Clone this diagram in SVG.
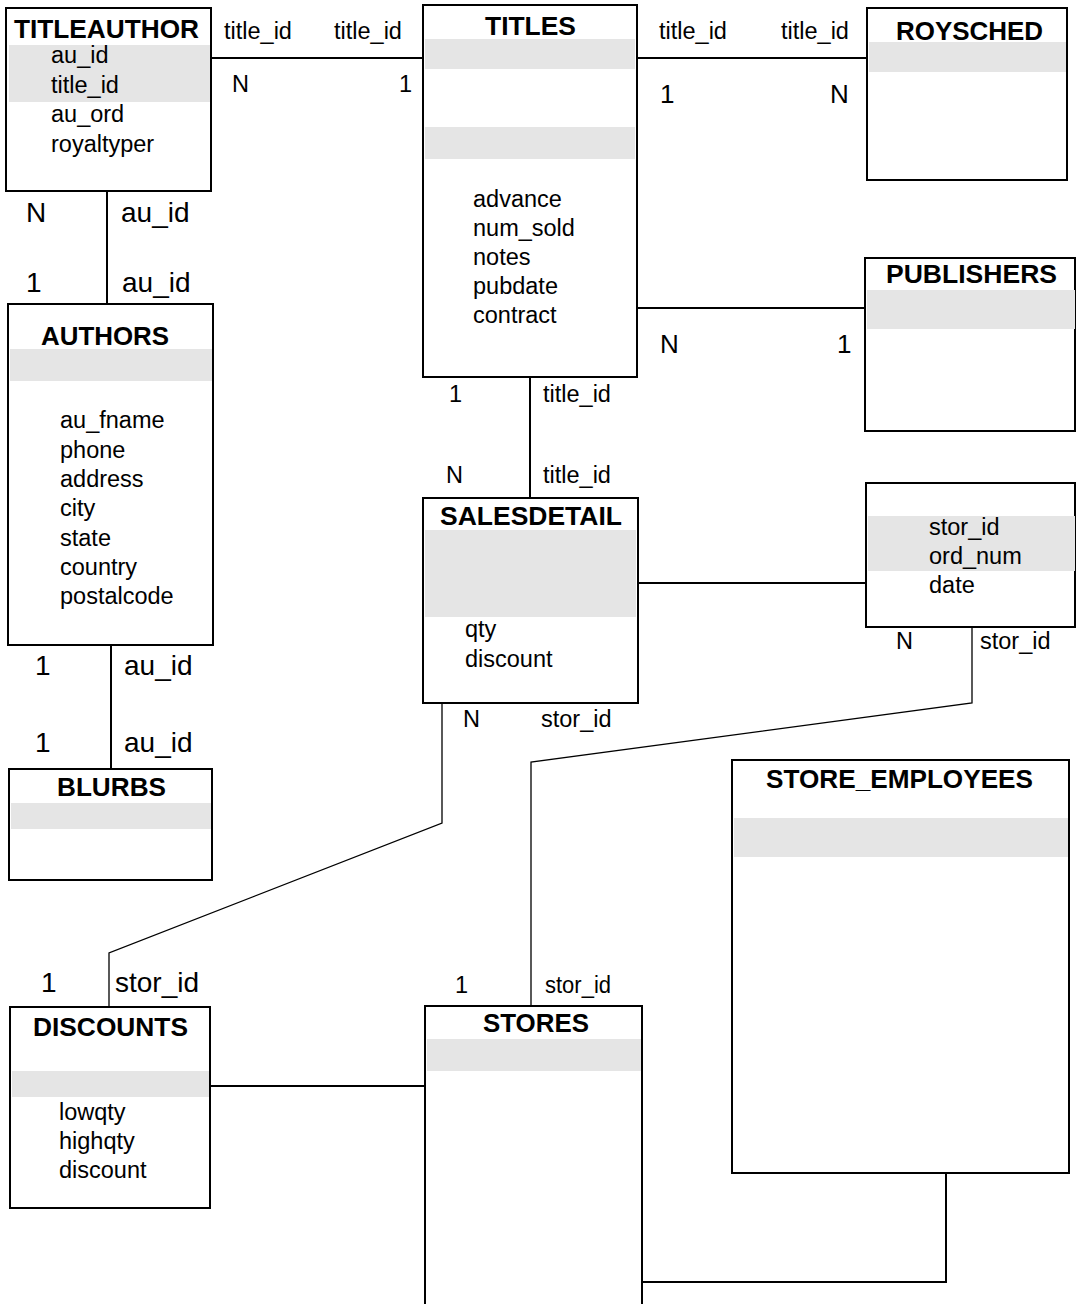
<svg xmlns="http://www.w3.org/2000/svg" width="1076" height="1304" viewBox="0 0 1076 1304">
  <style>
    .box { fill: #ffffff; stroke: #000000; stroke-width: 2; }
    .key { fill: #e5e5e5; stroke: none; }
    .title { font-family: "Liberation Sans", Arial, sans-serif; font-weight: bold; font-size: 26px; fill: #000000; }
    .field { font-family: "Liberation Sans", Arial, sans-serif; font-size: 23.5px; fill: #000000; }
    .lbl { font-family: "Liberation Sans", Arial, sans-serif; font-size: 23.5px; fill: #000000; }
    .lbl-lg { font-family: "Liberation Sans", Arial, sans-serif; font-size: 28px; fill: #000000; }
    .lbl-md { font-family: "Liberation Sans", Arial, sans-serif; font-size: 26px; fill: #000000; }
    .link { fill: none; stroke: #000000; stroke-width: 2; }
    .thin { fill: none; stroke: #000000; stroke-width: 1.3; }
  </style>
  <rect x="0" y="0" width="1076" height="1304" fill="#ffffff"/>

  <!-- relationship lines -->
  <g id="connectors">
    <line class="link" x1="208" y1="58" x2="423" y2="58"/>
    <line class="link" x1="637" y1="58" x2="868" y2="58"/>
    <line class="link" x1="637" y1="308" x2="866" y2="308"/>
    <line class="link" x1="107" y1="191" x2="107" y2="304"/>
    <line class="link" x1="111" y1="645" x2="111" y2="769"/>
    <line class="link" x1="530" y1="377" x2="530" y2="498"/>
    <line class="link" x1="638" y1="583" x2="867" y2="583"/>
    <polyline class="thin" points="442,703 442,823 109,953 109,1007"/>
    <polyline class="thin" points="972,627 972,703 531,762 531,1006"/>
    <line class="link" x1="210" y1="1086" x2="425" y2="1086"/>
    <polyline class="link" points="642,1282 946,1282 946,1173"/>

    <text class="lbl" x="224" y="39">title_id</text>
    <text class="lbl" x="334" y="39">title_id</text>
    <text class="lbl" x="232" y="92">N</text>
    <text class="lbl" x="412" y="92" text-anchor="end">1</text>

    <text class="lbl" x="659" y="39">title_id</text>
    <text class="lbl" x="781" y="39">title_id</text>
    <text class="lbl-md" x="660" y="103">1</text>
    <text class="lbl-md" x="830" y="103">N</text>

    <text class="lbl-md" x="660" y="353">N</text>
    <text class="lbl-md" x="837" y="353">1</text>

    <text class="lbl-lg" x="26" y="222">N</text>
    <text class="lbl-lg" x="121" y="222">au_id</text>
    <text class="lbl-lg" x="26" y="292">1</text>
    <text class="lbl-lg" x="122" y="292">au_id</text>

    <text class="lbl-lg" x="35" y="675">1</text>
    <text class="lbl-lg" x="124" y="675">au_id</text>
    <text class="lbl-lg" x="35" y="752">1</text>
    <text class="lbl-lg" x="124" y="752">au_id</text>

    <text class="lbl" x="449" y="402">1</text>
    <text class="lbl" x="543" y="402">title_id</text>
    <text class="lbl" x="446" y="483">N</text>
    <text class="lbl" x="543" y="483">title_id</text>

    <text class="lbl" x="463" y="727">N</text>
    <text class="lbl" x="541" y="727">stor_id</text>

    <text class="lbl" x="896" y="649">N</text>
    <text class="lbl" x="980" y="649">stor_id</text>

    <text class="lbl-lg" x="41" y="992">1</text>
    <text class="lbl-lg" x="115" y="992">stor_id</text>

    <text class="lbl" x="455" y="993">1</text>
    <text class="lbl" x="545" y="993" textLength="66" lengthAdjust="spacingAndGlyphs">stor_id</text>
  </g>

  <g id="titleauthor">
    <rect class="box" x="6" y="8" width="205" height="183"/>
    <rect class="key" x="9" y="45" width="201" height="57"/>
    <text class="title" x="14" y="38" textLength="185" lengthAdjust="spacingAndGlyphs">TITLEAUTHOR</text>
    <text class="field" x="51" y="63">au_id</text>
    <text class="field" x="51" y="93">title_id</text>
    <text class="field" x="51" y="122">au_ord</text>
    <text class="field" x="51" y="152">royaltyper</text>
  </g>

  <g id="titles">
    <rect class="box" x="423" y="5" width="214" height="372"/>
    <rect class="key" x="425" y="39" width="210" height="30"/>
    <rect class="key" x="425" y="127" width="210" height="32"/>
    <text class="title" x="485" y="35" textLength="91" lengthAdjust="spacingAndGlyphs">TITLES</text>
    <text class="field" x="473" y="207">advance</text>
    <text class="field" x="473" y="236">num_sold</text>
    <text class="field" x="473" y="265">notes</text>
    <text class="field" x="473" y="294">pubdate</text>
    <text class="field" x="473" y="323">contract</text>
  </g>

  <g id="roysched">
    <rect class="box" x="867" y="8" width="200" height="172"/>
    <rect class="key" x="869" y="42" width="197" height="30"/>
    <text class="title" x="896" y="40" textLength="147" lengthAdjust="spacingAndGlyphs">ROYSCHED</text>
  </g>

  <g id="publishers">
    <rect class="box" x="865" y="258" width="210" height="173"/>
    <rect class="key" x="867" y="290" width="208" height="39"/>
    <text class="title" x="886" y="283" textLength="171" lengthAdjust="spacingAndGlyphs">PUBLISHERS</text>
  </g>

  <g id="authors">
    <rect class="box" x="8" y="304" width="205" height="341"/>
    <rect class="key" x="10" y="349" width="202" height="32"/>
    <text class="title" x="41" y="345" textLength="128" lengthAdjust="spacingAndGlyphs">AUTHORS</text>
    <text class="field" x="60" y="428">au_fname</text>
    <text class="field" x="60" y="458">phone</text>
    <text class="field" x="60" y="487">address</text>
    <text class="field" x="60" y="516">city</text>
    <text class="field" x="60" y="546">state</text>
    <text class="field" x="60" y="575">country</text>
    <text class="field" x="60" y="604">postalcode</text>
  </g>

  <g id="blurbs">
    <rect class="box" x="9" y="769" width="203" height="111"/>
    <rect class="key" x="11" y="803" width="200" height="26"/>
    <text class="title" x="57" y="796" textLength="109" lengthAdjust="spacingAndGlyphs">BLURBS</text>
  </g>

  <g id="salesdetail">
    <rect class="box" x="423" y="498" width="215" height="205"/>
    <rect class="key" x="425" y="530" width="211" height="87"/>
    <text class="title" x="440" y="525" textLength="182" lengthAdjust="spacingAndGlyphs">SALESDETAIL</text>
    <text class="field" x="465" y="637">qty</text>
    <text class="field" x="465" y="667">discount</text>
  </g>

  <g id="sales">
    <rect class="box" x="866" y="483" width="209" height="144"/>
    <rect class="key" x="868" y="516" width="207" height="55"/>
    <text class="field" x="929" y="535">stor_id</text>
    <text class="field" x="929" y="564">ord_num</text>
    <text class="field" x="929" y="593">date</text>
  </g>

  <g id="store_employees">
    <rect class="box" x="732" y="760" width="337" height="413"/>
    <rect class="key" x="734" y="818" width="334" height="39"/>
    <text class="title" x="766" y="788" textLength="267" lengthAdjust="spacingAndGlyphs">STORE_EMPLOYEES</text>
  </g>

  <g id="discounts">
    <rect class="box" x="10" y="1007" width="200" height="201"/>
    <rect class="key" x="12" y="1071" width="197" height="26"/>
    <text class="title" x="33" y="1036" textLength="155" lengthAdjust="spacingAndGlyphs">DISCOUNTS</text>
    <text class="field" x="59" y="1120">lowqty</text>
    <text class="field" x="59" y="1149">highqty</text>
    <text class="field" x="59" y="1178">discount</text>
  </g>

  <g id="stores">
    <rect class="box" x="425" y="1006" width="217" height="310"/>
    <rect class="key" x="427" y="1039" width="214" height="32"/>
    <text class="title" x="483" y="1032" textLength="106" lengthAdjust="spacingAndGlyphs">STORES</text>
  </g>
</svg>
